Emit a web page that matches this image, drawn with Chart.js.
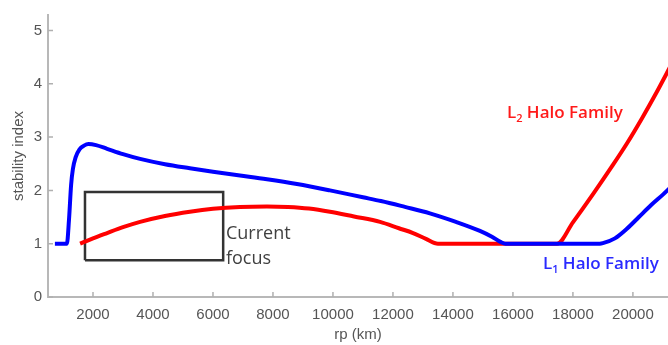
<!DOCTYPE html>
<html>
<head>
<meta charset="utf-8">
<script src="https://cdn.jsdelivr.net/npm/chart.js@4.4.0/dist/chart.umd.min.js"></script>
<style>
    body { margin: 0; background: #fff; }
    #chart { display: block; }
</style>
</head>
<body>
<canvas id="chart" width="668" height="345"></canvas>
<script>
// L1 halo family (blue)
const l1Rp = [730, 1130, 1200, 1270, 1330, 1420, 1550, 1700, 1850, 2100, 2470, 3000, 3570,
    4400, 5230, 6000, 6900, 7800, 8800, 9900, 11000, 11600, 12400, 13230, 14100, 14900,
    15300, 15600, 15750, 17000, 18900, 19000, 19400, 19800, 20200, 20600, 21000, 21300];
const l1Index = [1, 1, 1.45, 2.1, 2.4, 2.62, 2.77, 2.84, 2.87, 2.85, 2.78, 2.68, 2.59,
    2.49, 2.415, 2.35, 2.28, 2.21, 2.12, 2.0, 1.87, 1.8, 1.69, 1.57, 1.41, 1.24,
    1.13, 1.03, 1, 1, 1, 1.01, 1.1, 1.28, 1.5, 1.72, 1.92, 2.08];

// L2 halo family (red)
const l2Rp = [1570, 2000, 2470, 3000, 3570, 4400, 5230, 6000, 6900, 7800, 8500, 9200,
    9900, 10700, 11570, 12200, 12670, 13100, 13500, 17470, 18000, 18670, 19300, 19800,
    20300, 20800, 21300];
const l2Index = [1, 1.1, 1.2, 1.31, 1.41, 1.52, 1.6, 1.655, 1.69, 1.7, 1.69, 1.66,
    1.6, 1.51, 1.41, 1.29, 1.2, 1.09, 1, 1, 1.4, 1.93, 2.45, 2.88,
    3.35, 3.85, 4.38];

// "current focus" box corners
const focusRp = [1733, 6340, 6340, 1733, 1733];
const focusIndex = [0.69, 0.69, 1.97, 1.97, 0.69];

const xTicks = [2000, 4000, 6000, 8000, 10000, 12000, 14000, 16000, 18000, 20000];
const yTicks = [0, 1, 2, 3, 4, 5];

const pts = (xs, ys) => xs.map((x, i) => ({ x: x, y: ys[i] }));
const axisFont = { family: "Liberation Sans, Arial, sans-serif", size: 15 };

// inward tick marks and the text notes
const extras = {
    id: "extras",
    afterDraw(chart) {
        const ctx = chart.ctx;
        const xs = chart.scales.x;
        const ys = chart.scales.y;
        const area = chart.chartArea;

        ctx.save();
        ctx.strokeStyle = "#b0b0b0";
        ctx.lineWidth = 1.5;
        ctx.beginPath();
        xTicks.forEach((t) => {
            const px = xs.getPixelForValue(t);
            ctx.moveTo(px, area.bottom);
            ctx.lineTo(px, area.bottom - 5);
        });
        yTicks.forEach((t) => {
            const py = ys.getPixelForValue(t);
            ctx.moveTo(area.left, py);
            ctx.lineTo(area.left + 5, py);
        });
        ctx.stroke();

        ctx.textBaseline = "alphabetic";
        ctx.textAlign = "left";

        // current focus
        ctx.fillStyle = "#404040";
        ctx.font = "18px 'Open Sans'";
        const cx = xs.getPixelForValue(6433);
        ctx.fillText("Current", cx, ys.getPixelForValue(1.08));
        ctx.fillText("focus", cx, ys.getPixelForValue(0.61));

        const family = (sub, color, rp, idx) => {
            let x = xs.getPixelForValue(rp);
            const y = ys.getPixelForValue(idx);
            ctx.fillStyle = color;
            ctx.font = "600 17px 'Open Sans'";
            ctx.fillText("L", x, y);
            x += ctx.measureText("L").width;
            ctx.font = "600 11px 'Open Sans'";
            ctx.fillText(sub, x, y + 4);
            x += ctx.measureText(sub).width;
            ctx.font = "600 17px 'Open Sans'";
            ctx.fillText(" Halo Family", x, y);
        };
        family("2", "#ff1a1a", 15800, 3.35);
        family("1", "#2a2aff", 17000, 0.53);
        ctx.restore();
    },
};

new Chart(document.querySelector("#chart").getContext("2d"), {
    type: "line",
    data: {
        datasets: [
            {
                label: "L1 Halo Family",
                data: pts(l1Rp, l1Index),
                borderColor: "#0000ff",
                borderWidth: 4,
                cubicInterpolationMode: "monotone",
                pointRadius: 0,
                order: 1,
            },
            {
                label: "L2 Halo Family",
                data: pts(l2Rp, l2Index),
                borderColor: "#ff0000",
                borderWidth: 4,
                cubicInterpolationMode: "monotone",
                pointRadius: 0,
                order: 2,
            },
            {
                label: "Current focus",
                data: pts(focusRp, focusIndex),
                borderColor: "#333333",
                borderWidth: 2.5,
                tension: 0,
                pointRadius: 0,
                order: 3,
            },
        ],
    },
    options: {
        responsive: false,
        animation: false,
        layout: { padding: { top: 9, right: 0, left: 0, bottom: 0 } },
        plugins: {
            legend: { display: false },
            tooltip: { enabled: false },
        },
        scales: {
            x: {
                type: "linear",
                min: 500,
                max: 21170,
                afterBuildTicks: (scale) => {
                    scale.ticks = xTicks.map((v) => ({ value: v }));
                },
                afterFit: (scale) => {
                    scale.height = 48;
                },
                grid: { display: false, drawTicks: false },
                border: { color: "#b8b8b8", width: 2 },
                ticks: {
                    padding: 9,
                    color: "#555",
                    font: axisFont,
                    maxRotation: 0,
                    callback: (v) => String(v),
                },
                title: {
                    display: true,
                    text: "rp (km)",
                    color: "#555",
                    font: axisFont,
                    padding: { top: 0, bottom: 1 },
                },
            },
            y: {
                min: 0,
                max: 5.29,
                afterBuildTicks: (scale) => {
                    scale.ticks = yTicks.map((v) => ({ value: v }));
                },
                afterFit: (scale) => {
                    scale.width = 48;
                },
                grid: { display: false, drawTicks: false },
                border: { color: "#b8b8b8", width: 2 },
                ticks: {
                    padding: 6,
                    color: "#555",
                    font: axisFont,
                    callback: (v) => String(v),
                },
                title: {
                    display: true,
                    text: "stability index",
                    color: "#555",
                    font: axisFont,
                    padding: { top: 10, bottom: 0 },
                },
            },
        },
    },
    plugins: [extras],
});
</script>
</body>
</html>
